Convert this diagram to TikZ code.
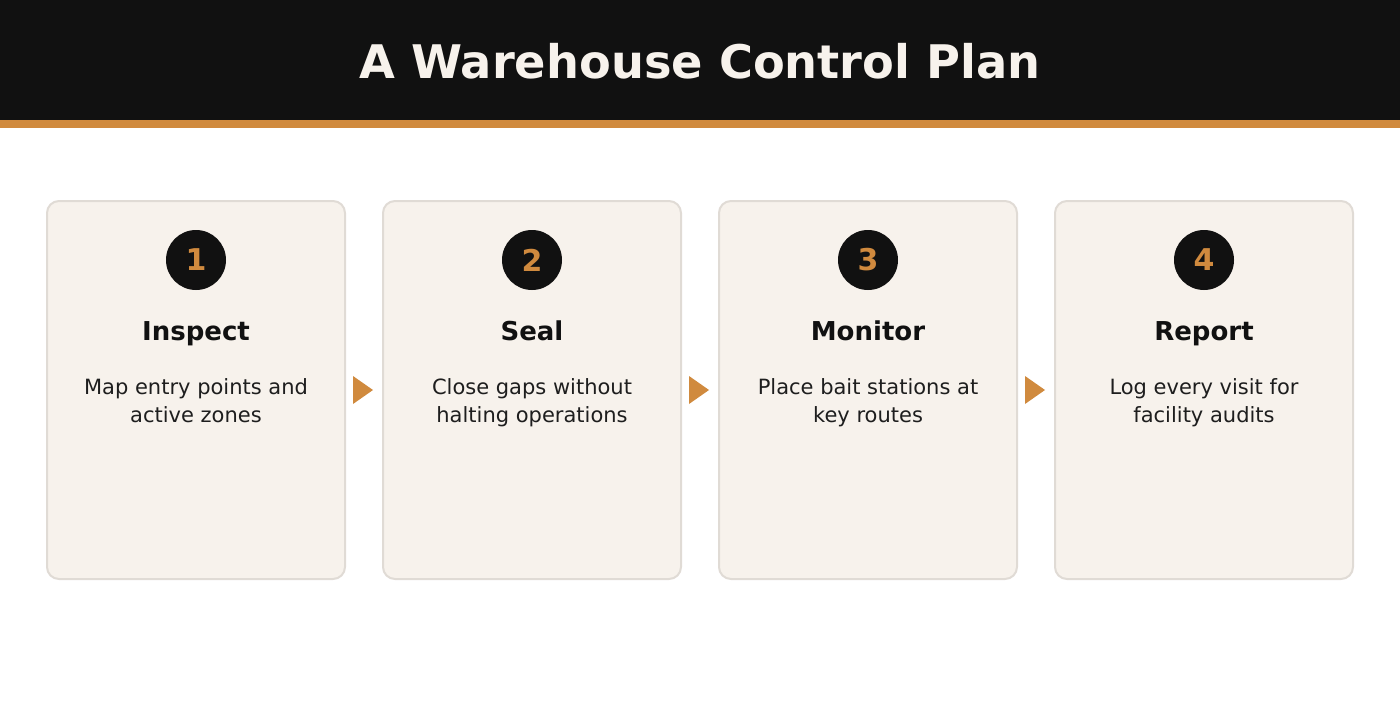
\documentclass[tikz,border=0pt]{standalone}
\usepackage{fontspec}
\setmainfont{DejaVu Sans}
\usetikzlibrary{calc}
\definecolor{ink}{HTML}{111111}
\definecolor{amber}{HTML}{D08A3E}
\definecolor{cream}{HTML}{F7F2EC}
\definecolor{edge}{HTML}{E0DBD5}
\definecolor{body}{HTML}{1E1E1E}
\tikzset{
  card/.style={draw=edge,line width=2pt,fill=cream,rounded corners=12pt,
    minimum width=298pt,minimum height=378pt,inner sep=0pt},
  badge/.style={circle,fill=ink,minimum size=60pt,inner sep=0pt,
    text=amber,font=\fontsize{30}{36}\selectfont\bfseries},
  heading/.style={anchor=base,text=ink,font=\fontsize{26}{31}\selectfont\bfseries},
  blurb/.style={anchor=north,align=center,inner sep=0pt,text=body,
    font=\fontsize{21}{28}\selectfont},
  pointer/.style={fill=amber}
}
\begin{document}
\begin{tikzpicture}[x=1pt,y=-1pt]
\useasboundingbox (0,0) rectangle (1400,720);
\fill[ink] (0,0) rectangle (1400,120);
\fill[amber] (0,120) rectangle (1400,128);
\node[anchor=base,text=cream,font=\fontsize{46.3}{55}\selectfont\bfseries] (title) at (700,78) {A Warehouse Control Plan};
\foreach \i/\name/\lineA/\lineB in {1/Inspect/Map entry points and/active zones,
    2/Seal/Close gaps without/halting operations,
    3/Monitor/Place bait stations at/key routes,
    4/Report/Log every visit for/facility audits} {
  \pgfmathsetmacro\cx{196+336*(\i-1)}
  \node[card] (card\i) at (\cx,390) {};
  \node[badge] (num\i) at (\cx,260) {\i};
  \node[heading] (head\i) at (\cx,340) {\name};
  \node[blurb] (text\i) at (\cx,378) {\lineA\\\lineB};
}
\foreach \i in {1,2,3}
  \fill[pointer] ($(card\i.east)+(7,-14)$) -- ++(20,14) -- ++(-20,14) -- cycle;
\end{tikzpicture}
\end{document}
